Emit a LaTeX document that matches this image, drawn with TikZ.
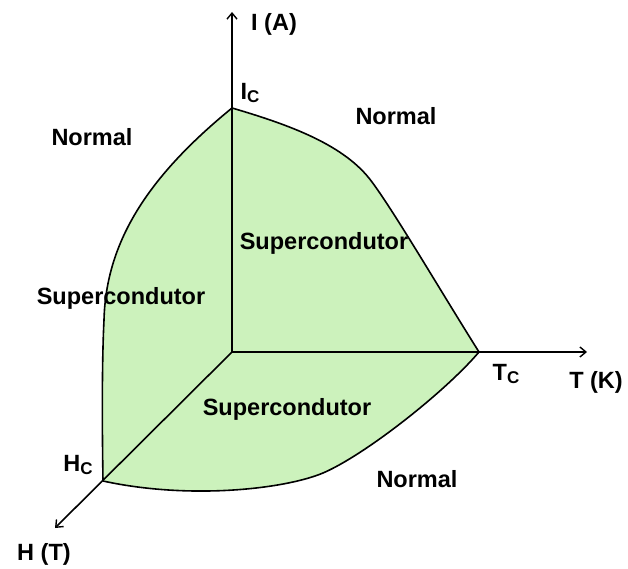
\documentclass[tikz,border=0pt]{standalone}
\usepackage{fontspec}
\setmainfont{Liberation Sans}
\usetikzlibrary{arrows.meta}
\definecolor{scgreen}{RGB}{204,242,188}
\newcommand\subC{\raisebox{-0.1em}{\fontsize{17}{17}\selectfont C}}
\tikzset{
  lbl/.style={font=\fontsize{23.5}{23.5}\selectfont\bfseries, inner sep=0pt, anchor=center},
  axis/.style={line width=1.6pt, -{Straight Barb[length=6pt,width=10pt,line width=1.4pt]}},
  bound/.style={line width=1.6pt},
}
\begin{document}
\begin{tikzpicture}[x=1pt,y=-1pt]
\useasboundingbox (0,0) rectangle (628,569);
\coordinate (O) at (232,352);
\coordinate (Ic) at (232,108);
\coordinate (Tc) at (479,352);
\coordinate (Hc) at (103,481);
\coordinate (Iend) at (232,12);
\coordinate (Tend) at (587,352);
\coordinate (Hend) at (55,528);
\coordinate (M1) at (372,182);
\coordinate (M2) at (323,473);
\coordinate (M3) at (104,320);
% green region
\fill[scgreen] (Ic) .. controls (290,125) and (345,145) .. (M1)
  .. controls (395,213) and (440,290) .. (Tc)
  .. controls (445,392) and (365,455) .. (M2)
  .. controls (285,489) and (190,500) .. (Hc)
  .. controls (102,420) and (102,360) .. (M3)
  .. controls (106,240) and (150,175) .. (Ic) -- cycle;
% boundaries
\draw[bound] (Ic) .. controls (290,125) and (345,145) .. (M1)
  .. controls (395,213) and (440,290) .. (Tc);
\draw[bound] (Tc) .. controls (445,392) and (365,455) .. (M2)
  .. controls (285,489) and (190,500) .. (Hc);
\draw[bound] (Hc) .. controls (102,420) and (102,360) .. (M3)
  .. controls (106,240) and (150,175) .. (Ic);
% axes
\draw[axis] (O) -- (Iend);
\draw[axis] (O) -- (Tend);
\draw[axis] (O) -- (Hend);
% labels
\node[lbl] (lI) at (274,24) {I (A)};
\node[lbl] (lIc) at (250,93) {I\subC};
\node[lbl] (lT) at (596,382) {T (K)};
\node[lbl] (lTc) at (506,374) {T\subC};
\node[lbl] (lH) at (44,554) {H (T)};
\node[lbl] (lHc) at (78,465) {H\subC};
\node[lbl] (n1) at (396,116) {Normal};
\node[lbl] (n2) at (92,137) {Normal};
\node[lbl] (n3) at (417,479) {Normal};
\node[lbl] (s1) at (121,298) {Supercondutor};
\node[lbl] (s2) at (324,243) {Supercondutor};
\node[lbl] (s3) at (287,409) {Supercondutor};
\end{tikzpicture}
\end{document}
